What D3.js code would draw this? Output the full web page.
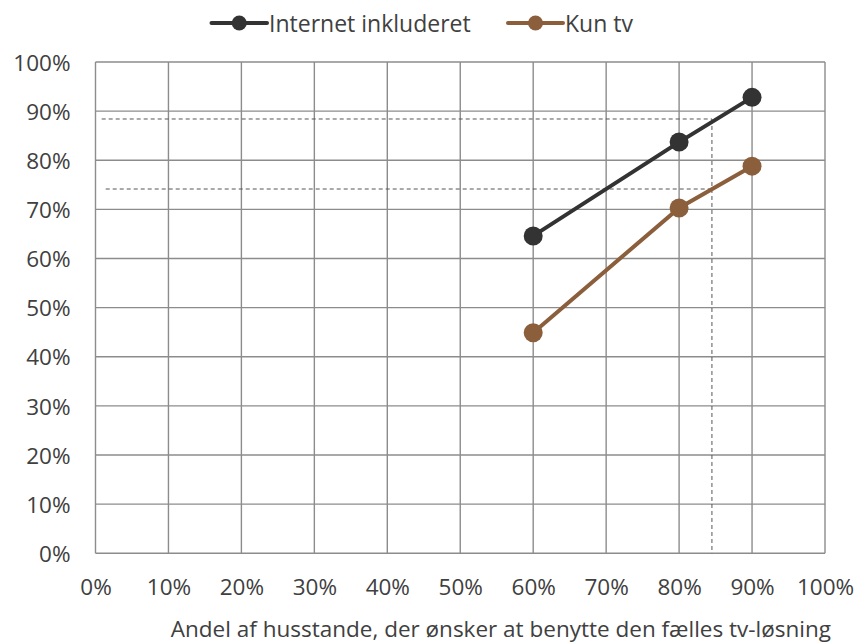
<!DOCTYPE html>
<html>
<head>
<meta charset="utf-8">
<script src="https://cdn.jsdelivr.net/npm/d3@7"></script>
<style>
  html, body { margin: 0; padding: 0; background: #fff; }
  svg { display: block; }
  text { font-family: "Open Sans", sans-serif; fill: #404040; }
</style>
</head>
<body>
<svg id="chart" width="857" height="644"></svg>
<script>
// Share of households (x) vs. required uptake (y)
const xValues = [0.6, 0.8, 0.9];
const internetValues = [0.646, 0.837, 0.928];
const tvValues = [0.449, 0.703, 0.788];
const seriesNames = ["Internet inkluderet", "Kun tv"];
const seriesColors = ["#333333", "#8B5E3C"];
const tickValues = [0, 0.1, 0.2, 0.3, 0.4, 0.5, 0.6, 0.7, 0.8, 0.9, 1.0];
const readX = 0.845;              // reading point on the x axis
const readY = [0.884, 0.7415];    // corresponding y readings
const readStartX = [0.0085, 0.014];
const xTitle = "Andel af husstande, der ønsker at benytte den fælles tv-løsning";

const svg = d3.select("#chart");
const margin = { left: 95.5, right: 32, top: 62, bottom: 90.7 };
const W = 857, H = 644;
const FS = 22.5;

const x = d3.scaleLinear().domain([0, 1]).range([margin.left, W - margin.right]);
const y = d3.scaleLinear().domain([0, 1]).range([H - margin.bottom, margin.top]);
const fmt = d3.format(".0%");

// Grid
const grid = svg.append("g");
grid.selectAll("line.v").data(tickValues).join("line")
  .attr("x1", d => x(d)).attr("x2", d => x(d))
  .attr("y1", y(0)).attr("y2", y(1))
  .attr("stroke", "#8c8c8c").attr("stroke-width", 1.4);
grid.selectAll("line.h").data(tickValues).join("line")
  .attr("y1", d => y(d)).attr("y2", d => y(d))
  .attr("x1", x(0)).attr("x2", x(1))
  .attr("stroke", "#8c8c8c").attr("stroke-width", 1.4);

// Axes (labels only)
const yAxis = svg.append("g")
  .attr("transform", `translate(${x(0) - 25},0)`)
  .call(d3.axisLeft(y).tickValues(tickValues).tickFormat(fmt).tickSize(0));
yAxis.select(".domain").remove();
yAxis.selectAll("text").attr("font-size", FS).attr("fill", "#404040")
  .attr("font-family", "Open Sans, sans-serif").attr("x", 0).attr("dy", "0.36em");

const xAxis = svg.append("g")
  .attr("transform", `translate(0,${y(0) + 26})`)
  .call(d3.axisBottom(x).tickValues(tickValues).tickFormat(fmt).tickSize(0));
xAxis.select(".domain").remove();
xAxis.selectAll("text").attr("font-size", FS).attr("fill", "#404040")
  .attr("font-family", "Open Sans, sans-serif").attr("y", 0).attr("dy", "0.71em");

// Dashed reading lines
const dash = svg.append("g").attr("stroke", "#555").attr("stroke-width", 1)
  .attr("stroke-dasharray", "4,3").attr("fill", "none");
readY.forEach((v, i) => {
  dash.append("line").attr("x1", x(readStartX[i])).attr("x2", x(readX))
    .attr("y1", y(v)).attr("y2", y(v));
});
dash.append("line").attr("x1", x(readX)).attr("x2", x(readX))
  .attr("y1", y(readY[0])).attr("y2", y(0));

// Series
const series = [internetValues, tvValues];
const line = d3.line().x(d => x(d[0])).y(d => y(d[1]));
series.forEach((vals, i) => {
  const pts = xValues.map((xv, j) => [xv, vals[j]]);
  svg.append("path").datum(pts).attr("d", line)
    .attr("fill", "none").attr("stroke", seriesColors[i]).attr("stroke-width", 4);
  svg.append("g").selectAll("circle").data(pts).join("circle")
    .attr("cx", d => x(d[0])).attr("cy", d => y(d[1])).attr("r", 9.5)
    .attr("fill", seriesColors[i]);
});

// Legend
const legendItems = [
  { x0: 211.5, x1: 267, label: seriesNames[0], color: seriesColors[0] },
  { x0: 508, x1: 563, label: seriesNames[1], color: seriesColors[1] }
];
const lg = svg.append("g");
legendItems.forEach(it => {
  lg.append("line").attr("x1", it.x0).attr("x2", it.x1).attr("y1", 23).attr("y2", 23)
    .attr("stroke", it.color).attr("stroke-width", 4).attr("stroke-linecap", "round");
  lg.append("circle").attr("cx", (it.x0 + it.x1) / 2).attr("cy", 23).attr("r", 7.5).attr("fill", it.color);
  lg.append("text").attr("x", it.x1 + 2).attr("y", 31.5)
    .attr("font-size", 23).text(it.label);
});

// X axis title
svg.append("text").attr("x", 831).attr("y", 637)
  .attr("text-anchor", "end").attr("font-size", FS).text(xTitle);
</script>
</body>
</html>
